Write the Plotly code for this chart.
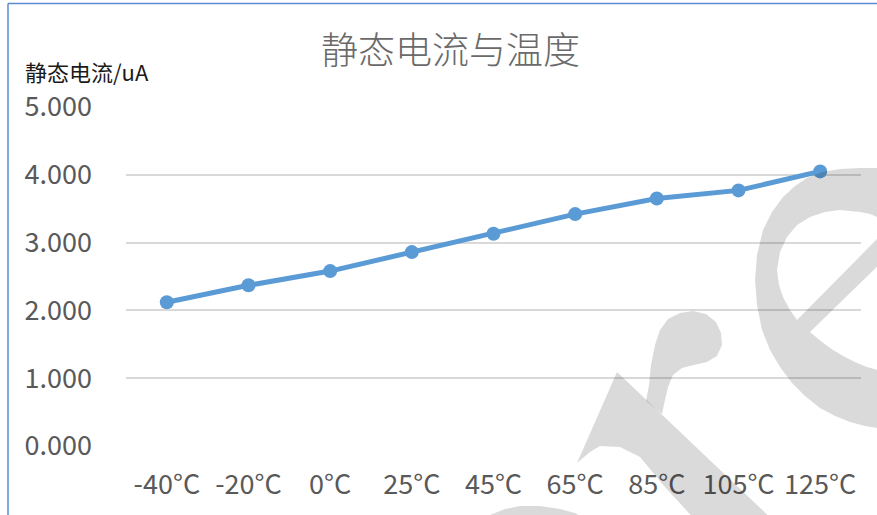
import plotly.graph_objects as go

# ---- data ----
categories = ["-40°C", "-20°C", "0°C", "25°C", "45°C", "65°C", "85°C", "105°C", "125°C"]
current_ua = [2.12, 2.37, 2.58, 2.86, 3.13, 3.42, 3.65, 3.77, 4.05]
y_ticks = [0, 1, 2, 3, 4, 5]
title_text = "静态电流与温度"
y_title_text = "静态电流/uA"

# ---- layout geometry (pixels) ----
FIG_W, FIG_H = 877, 515
L, R, T, B = 126, 16, 107, 69
PW = FIG_W - L - R
PH = FIG_H - T - B

def px(X):
    return (X - L) / PW

def py(Y):
    return (FIG_H - B - Y) / PH

def path(*polys):
    out = []
    for poly in polys:
        pts = ["{:.5f},{:.5f}".format(px(x), py(y)) for x, y in poly]
        out.append("M " + " L ".join(pts) + " Z")
    return " ".join(out)

# watermark outlines (decorative, pixel coordinates)
e_outer = [(882, 168), (860, 168), (840, 169), (822, 172), (807, 178), (795, 186), (783, 197),
           (772, 212), (763, 230), (757, 255), (755, 280), (757, 305), (762, 330), (770, 350),
           (780, 367), (792, 383), (805, 396), (820, 408), (835, 416), (850, 422), (865, 426),
           (882, 429)]
e_hole_top = [(882, 219), (870, 214), (860, 212), (840, 210), (825, 212), (810, 217), (797, 225),
              (787, 237), (780, 252), (777, 270), (779, 285), (783, 297), (790, 310), (797, 320),
              (882, 234)]
e_hole_low = [(810, 332), (822, 342), (833, 350), (845, 357), (857, 363), (867, 367), (882, 371),
              (882, 262)]
r_stem = [(617, 372), (775, 522), (697, 522), (665, 487), (640, 457), (620, 447), (600, 446),
          (590, 452), (577, 463)]
r_arm = [(646, 401), (649, 385), (651, 365), (655, 345), (660, 330), (668, 319), (680, 313),
         (693, 311), (706, 314), (716, 322), (721, 333), (722, 345), (717, 356), (707, 362),
         (694, 365), (682, 368), (673, 375), (668, 387), (665, 400), (662, 414)]
bottom_arc = [(482, 522), (490, 515), (505, 509), (520, 506), (540, 506), (560, 509), (575, 513),
              (592, 522)]

wm = dict(type="path", xref="paper", yref="paper", fillcolor="black", opacity=0.145,
          line=dict(width=0), layer="above")

shapes = [
    dict(wm, path=path(e_outer, e_hole_top, e_hole_low), fillrule="evenodd"),
    dict(wm, path=path(r_stem)),
    dict(wm, path=path(r_arm)),
    dict(wm, path=path(bottom_arc)),
    # frame border (left and top)
    dict(type="line", xref="paper", yref="paper", x0=px(8), x1=px(8), y0=py(3.5), y1=py(520),
         line=dict(color="#5b8ad4", width=1.5), layer="above"),
    dict(type="line", xref="paper", yref="paper", x0=px(8), x1=px(880), y0=py(3.5), y1=py(3.5),
         line=dict(color="#5b8ad4", width=1.5), layer="above"),
]

font_family = "Noto Sans CJK SC, Noto Sans, sans-serif"

fig = go.Figure(
    go.Scatter(
        x=categories,
        y=current_ua,
        mode="lines+markers",
        line=dict(color="#5b9bd5", width=5),
        marker=dict(color="#5b9bd5", size=14),
        hoverinfo="x+y",
    )
)

fig.update_layout(
    width=FIG_W,
    height=FIG_H,
    margin=dict(l=L, r=R, t=T, b=B, autoexpand=False),
    paper_bgcolor="white",
    plot_bgcolor="white",
    showlegend=False,
    font=dict(family=font_family, color="#595959", size=27),
    shapes=shapes,
    annotations=[
        dict(text=title_text, xref="paper", yref="paper", x=px(450), y=py(48),
             xanchor="center", yanchor="middle", showarrow=False,
             font=dict(family=font_family, size=37, color="#6a6a6a", weight=300)),
        dict(text=y_title_text, xref="paper", yref="paper", x=px(23), y=py(71),
             xanchor="left", yanchor="middle", showarrow=False,
             font=dict(family=font_family, size=22, color="#1a1a1a")),
    ],
)

fig.update_xaxes(
    type="category",
    range=[-0.5, len(categories) - 0.5],
    showgrid=False,
    showline=False,
    zeroline=False,
    ticks="",
    ticklabelstandoff=20,
    tickfont=dict(family=font_family, size=27, color="#595959"),
)

fig.update_yaxes(
    range=[0, 5],
    tickvals=y_ticks,
    tickformat=".3f",
    showgrid=True,
    gridcolor="#d9d9d9",
    gridwidth=1.5,
    zeroline=False,
    showline=False,
    ticks="",
    ticklabelstandoff=33,
    tickfont=dict(family=font_family, size=27, color="#595959"),
)

fig.write_html("out.html")
